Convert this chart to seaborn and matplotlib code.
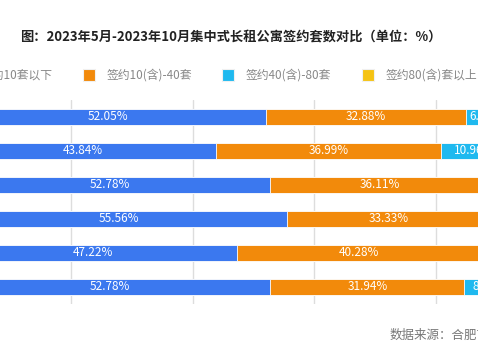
import numpy as np
import pandas as pd
import matplotlib
matplotlib.use("Agg")
import matplotlib.pyplot as plt
import seaborn as sns
from matplotlib.patches import Rectangle

sns.set_theme(style="white")
plt.rcParams['font.family'] = ['Noto Sans CJK SC', 'DejaVu Sans']

months = ["2023年5月", "2023年6月", "2023年7月", "2023年8月", "2023年9月", "2023年10月"]
below10 = [52.05, 43.84, 52.78, 55.56, 47.22, 52.78]
from10to40 = [32.88, 36.99, 36.11, 33.33, 40.28, 31.94]
from40to80 = [6.85, 10.96, 5.56, 5.56, 6.94, 8.33]
above80 = [8.22, 8.22, 5.55, 5.55, 5.56, 6.95]
series_names = ["签约10套以下", "签约10(含)-40套", "签约40(含)-80套", "签约80(含)套以上"]
colors = ["#3b78ef", "#f28a0b", "#1fb9ef", "#f5c313"]
title = "图：2023年5月-2023年10月集中式长租公寓签约套数对比（单位：%）"
source = "数据来源：合肥市住房租赁监管服务平台"

series = [below10, from10to40, from40to80, above80]
cum = np.cumsum(np.array(series), axis=0)

W, H = 478, 359
fig = plt.figure(figsize=(W / 100, H / 100), dpi=100)
# axes extend beyond the figure on both sides (cropped chart)
x0, x100 = -50, 557
ytop, ybot = 100, 304
ax = fig.add_axes([x0 / W, (H - ybot) / H, (x100 - x0) / W, (ybot - ytop) / H])

for i in range(3, -1, -1):
    df = pd.DataFrame({"month": months, "v": cum[i]})
    sns.barplot(data=df, x="v", y="month", orient="h", color=colors[i],
                width=0.47, ax=ax, saturation=1, edgecolor="white", linewidth=0.6,
                zorder=3)

# labels
for i in range(4):
    for j in range(len(months)):
        v = series[i][j]
        start = cum[i][j] - v
        ax.text(start + v / 2, j, f"{v:.2f}%", ha="center", va="center",
                color="white", fontsize=8.5, zorder=5)

ax.set_xlim(0, 100)
ax.set_ylim(len(months) - 0.5, -0.5)
ax.set_xticks([0, 20, 40, 60, 80, 100])
ax.xaxis.grid(True, color="#dddddd", linewidth=1, zorder=0)
ax.set_axisbelow(True)
ax.tick_params(axis="x", labelbottom=False, length=0)
ax.set_xlabel("")
ax.set_ylabel("")
for s in ax.spines.values():
    s.set_visible(False)

# title
fig.text(20 / W, 1 - 37 / H, title, ha="left", va="center", fontsize=9.5,
         fontweight="bold", color="#222222")

# legend (manual, cropped on both sides)
leg_y = 75
text_starts = [None, 107, 246, 386]
for i, name in enumerate(series_names):
    if i == 0:
        fig.text(53 / W, 1 - leg_y / H, name, ha="right", va="center",
                 fontsize=8.5, color="#888888")
        sq_x = -45
    else:
        fig.text(text_starts[i] / W, 1 - leg_y / H, name, ha="left", va="center",
                 fontsize=8.5, color="#888888")
        sq_x = text_starts[i] - 24
    fig.patches.append(Rectangle((sq_x / W, 1 - (leg_y + 6) / H), 12 / W, 12 / H,
                                 transform=fig.transFigure, facecolor=colors[i],
                                 edgecolor="#f0f0f0", linewidth=0.8))

fig.text(390 / W, 1 - 335 / H, source, ha="left", va="center", fontsize=9,
         color="#777777")

fig.savefig("out.png", dpi=100)
